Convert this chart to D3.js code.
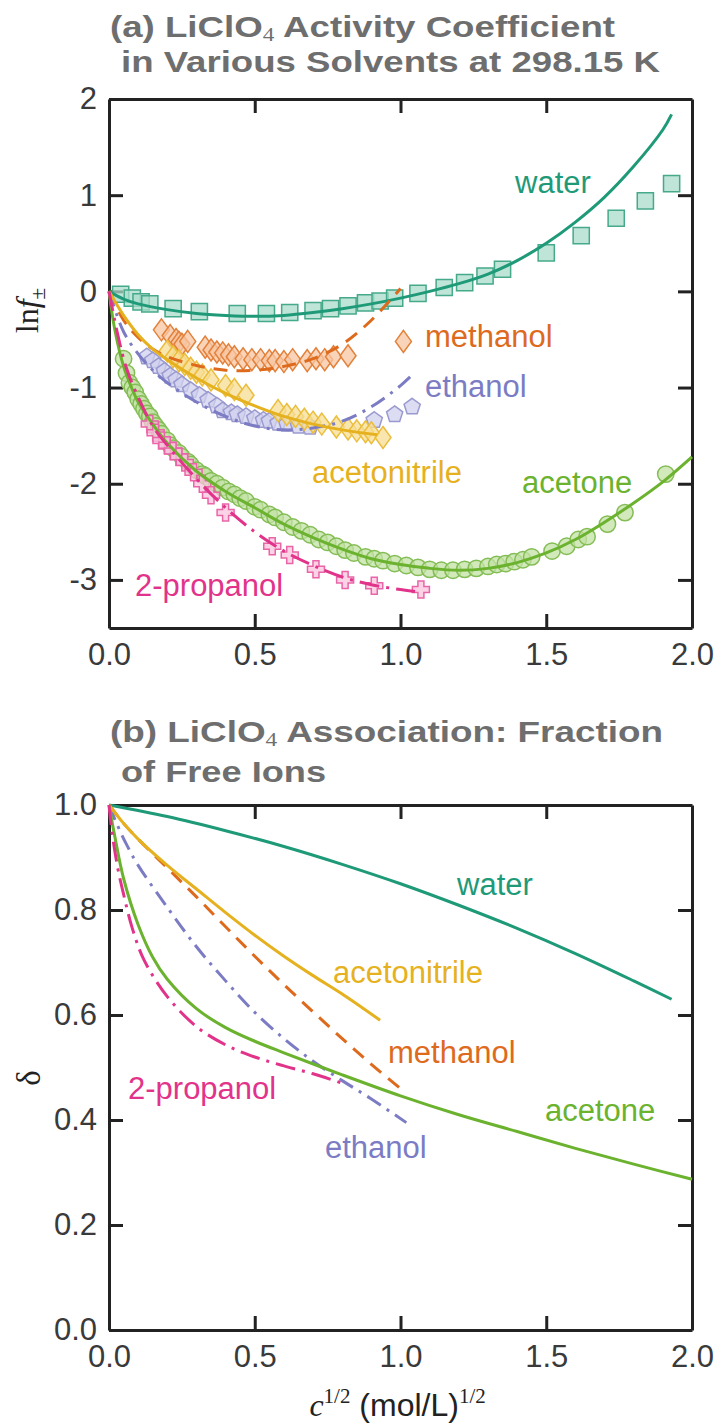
<!DOCTYPE html>
<html>
<head>
<meta charset="utf-8">
<script src="https://cdn.jsdelivr.net/npm/d3@7"></script>
<style>
  html, body { margin: 0; padding: 0; background: #fff; }
  svg { display: block; }
  .tick text { font-family: "Liberation Sans", Arial, sans-serif; font-size: 31px; fill: #3a3a3a; }
  .title { font-family: "Liberation Sans", Arial, sans-serif; font-weight: bold; font-size: 30px; fill: #6e6e6e; }
  .lbl { font-family: "Liberation Sans", Arial, sans-serif; font-size: 31px; }
</style>
</head>
<body>
<svg id="chart" width="719" height="1426"></svg>
<script>
// Series colours (line, marker stroke, marker fill)
const solvents = ['water', 'methanol', 'ethanol', 'acetonitrile', 'acetone', '2-propanol'];
const lineColor = { water: '#1f9a78', methanol: '#dd6a1d', ethanol: '#7c7cc4', acetonitrile: '#e6b11e', acetone: '#6bb22e', '2-propanol': '#e2338a' };
const markStroke = { water: '#45a98a', methanol: '#e3803a', ethanol: '#9a9ad0', acetonitrile: '#ebbd3c', acetone: '#84bd55', '2-propanol': '#e865a8' };
const markFill = { water: '#a9dccb', methanol: '#f7c6a2', ethanol: '#d0d0ee', acetonitrile: '#f7de94', acetone: '#c2e1a4', '2-propanol': '#f9c3dd' };
const dashes = { water: null, methanol: '14,9', ethanol: '16,7,3,7', acetonitrile: null, acetone: null, '2-propanol': '20,7,3,7' };

// Ticks
const xTicks = [0, 0.5, 1.0, 1.5, 2.0];
const yTicksA = [-3, -2, -1, 0, 1, 2];
const yTicksB = [0, 0.2, 0.4, 0.6, 0.8, 1.0];

// ---- Panel (a): measured points ----
const waterPtX = [0.04, 0.08, 0.11, 0.14, 0.22, 0.31, 0.44, 0.54, 0.62, 0.70, 0.76, 0.82, 0.88, 0.93, 0.98, 1.06, 1.15, 1.22, 1.29, 1.35, 1.50, 1.62, 1.74, 1.84, 1.93];
const waterPtY = [-0.03, -0.07, -0.11, -0.13, -0.18, -0.21, -0.23, -0.23, -0.22, -0.20, -0.18, -0.15, -0.12, -0.10, -0.07, -0.02, 0.04, 0.09, 0.16, 0.23, 0.40, 0.58, 0.76, 0.94, 1.12];

const methanolPtX = [0.18, 0.21, 0.23, 0.24, 0.25, 0.27, 0.33, 0.35, 0.37, 0.39, 0.41, 0.43, 0.46, 0.49, 0.52, 0.55, 0.57, 0.60, 0.63, 0.68, 0.71, 0.74, 0.77, 0.82, 1.01];
const methanolPtY = [-0.40, -0.46, -0.50, -0.53, -0.55, -0.52, -0.58, -0.61, -0.63, -0.64, -0.66, -0.68, -0.70, -0.71, -0.71, -0.72, -0.72, -0.73, -0.71, -0.72, -0.70, -0.71, -0.68, -0.67, -0.52];

const ethanolPtX = [0.13, 0.15, 0.17, 0.19, 0.21, 0.23, 0.25, 0.28, 0.31, 0.34, 0.37, 0.39, 0.42, 0.44, 0.47, 0.50, 0.53, 0.55, 0.58, 0.61, 0.65, 0.69, 0.91, 0.98, 1.04];
const ethanolPtY = [-0.68, -0.72, -0.78, -0.83, -0.88, -0.92, -0.97, -1.03, -1.08, -1.13, -1.19, -1.24, -1.26, -1.28, -1.30, -1.32, -1.34, -1.35, -1.37, -1.38, -1.40, -1.41, -1.34, -1.28, -1.20];

const acetonitrilePtX = [0.20, 0.22, 0.24, 0.26, 0.28, 0.30, 0.32, 0.35, 0.40, 0.43, 0.47, 0.58, 0.61, 0.64, 0.67, 0.70, 0.73, 0.78, 0.82, 0.85, 0.88, 0.90, 0.94];
const acetonitrilePtY = [-0.62, -0.68, -0.72, -0.76, -0.80, -0.84, -0.87, -0.92, -0.98, -1.02, -1.08, -1.24, -1.28, -1.30, -1.33, -1.36, -1.38, -1.41, -1.43, -1.45, -1.46, -1.47, -1.52];

const acetonePtX = [0.05, 0.06, 0.07, 0.08, 0.09, 0.10, 0.11, 0.12, 0.13, 0.14, 0.15, 0.16, 0.17, 0.18, 0.20, 0.21, 0.22, 0.24, 0.25, 0.27, 0.28, 0.30, 0.32, 0.33, 0.35, 0.37, 0.39, 0.41, 0.43, 0.45, 0.47, 0.50, 0.52, 0.55, 0.57, 0.60, 0.63, 0.66, 0.69, 0.72, 0.75, 0.78, 0.81, 0.84, 0.88, 0.91, 0.94, 0.98, 1.02, 1.06, 1.10, 1.14, 1.18, 1.22, 1.26, 1.30, 1.33, 1.36, 1.39, 1.42, 1.45, 1.52, 1.57, 1.61, 1.64, 1.71, 1.77, 1.91];
const acetonePtY = [-0.70, -0.85, -0.95, -1.00, -1.05, -1.12, -1.17, -1.22, -1.27, -1.30, -1.36, -1.40, -1.44, -1.48, -1.55, -1.60, -1.63, -1.68, -1.72, -1.77, -1.80, -1.86, -1.90, -1.92, -1.97, -2.00, -2.04, -2.08, -2.11, -2.15, -2.18, -2.24, -2.27, -2.32, -2.35, -2.40, -2.45, -2.49, -2.53, -2.58, -2.61, -2.65, -2.69, -2.72, -2.76, -2.78, -2.80, -2.83, -2.85, -2.87, -2.89, -2.90, -2.90, -2.89, -2.88, -2.86, -2.84, -2.83, -2.81, -2.79, -2.76, -2.70, -2.65, -2.58, -2.55, -2.42, -2.30, -1.90];

const propanolPtX = [0.14, 0.16, 0.18, 0.20, 0.22, 0.24, 0.26, 0.29, 0.32, 0.35, 0.40, 0.56, 0.62, 0.71, 0.81, 0.91, 1.07];
const propanolPtY = [-1.38, -1.47, -1.55, -1.60, -1.66, -1.72, -1.78, -1.88, -2.00, -2.12, -2.30, -2.65, -2.74, -2.89, -3.00, -3.06, -3.10];

// ---- Panel (a): model curves ----
const waterLnX = [0, 0.05, 0.1, 0.2, 0.3, 0.4, 0.5, 0.6, 0.7, 0.8, 0.9, 1.0, 1.1, 1.2, 1.3, 1.4, 1.5, 1.6, 1.7, 1.8, 1.9, 1.93];
const waterLnY = [0, -0.08, -0.13, -0.19, -0.23, -0.25, -0.26, -0.25, -0.22, -0.18, -0.13, -0.07, 0.0, 0.08, 0.18, 0.32, 0.50, 0.72, 0.98, 1.30, 1.68, 1.84];
const methanolLnX = [0, 0.05, 0.1, 0.15, 0.2, 0.3, 0.4, 0.5, 0.6, 0.7, 0.8, 0.9, 1.0];
const methanolLnY = [0, -0.30, -0.48, -0.60, -0.68, -0.77, -0.82, -0.82, -0.78, -0.70, -0.55, -0.30, 0.03];
const ethanolLnX = [0, 0.05, 0.1, 0.15, 0.2, 0.3, 0.4, 0.5, 0.6, 0.7, 0.8, 0.9, 1.0, 1.05];
const ethanolLnY = [0, -0.42, -0.65, -0.82, -0.95, -1.15, -1.30, -1.40, -1.44, -1.42, -1.35, -1.20, -0.98, -0.84];
const acetonitrileLnX = [0, 0.05, 0.1, 0.15, 0.2, 0.3, 0.4, 0.5, 0.6, 0.7, 0.8, 0.92];
const acetonitrileLnY = [0, -0.25, -0.45, -0.60, -0.71, -0.90, -1.06, -1.19, -1.30, -1.38, -1.44, -1.49];
const acetoneLnX = [0, 0.02, 0.05, 0.08, 0.1, 0.15, 0.2, 0.3, 0.4, 0.5, 0.6, 0.7, 0.8, 0.9, 1.0, 1.1, 1.2, 1.3, 1.4, 1.5, 1.6, 1.7, 1.8, 1.9, 2.0];
const acetoneLnY = [0, -0.40, -0.78, -1.02, -1.15, -1.38, -1.58, -1.87, -2.08, -2.25, -2.42, -2.56, -2.68, -2.78, -2.84, -2.88, -2.90, -2.88, -2.82, -2.72, -2.58, -2.40, -2.20, -1.98, -1.72];
const propanolLnX = [0, 0.03, 0.06, 0.1, 0.15, 0.2, 0.3, 0.4, 0.5, 0.6, 0.7, 0.8, 0.9, 1.0, 1.05];
const propanolLnY = [0, -0.45, -0.80, -1.10, -1.40, -1.60, -1.95, -2.25, -2.50, -2.70, -2.85, -2.97, -3.05, -3.10, -3.12];

// ---- Panel (b): fraction of free ions ----
const waterDX = [0, 0.2, 0.4, 0.6, 0.8, 1.0, 1.2, 1.4, 1.6, 1.8, 1.93];
const waterDY = [1.0, 0.978, 0.951, 0.921, 0.887, 0.85, 0.809, 0.765, 0.717, 0.665, 0.63];
const acetonitrileDX = [0, 0.05, 0.1, 0.2, 0.3, 0.4, 0.5, 0.6, 0.7, 0.8, 0.93];
const acetonitrileDY = [1.0, 0.965, 0.935, 0.885, 0.84, 0.795, 0.752, 0.712, 0.675, 0.64, 0.59];
const methanolDX = [0, 0.05, 0.1, 0.2, 0.3, 0.4, 0.5, 0.6, 0.7, 0.8, 0.9, 1.0];
const methanolDY = [1.0, 0.965, 0.935, 0.88, 0.825, 0.768, 0.712, 0.658, 0.606, 0.555, 0.506, 0.46];
const ethanolDX = [0, 0.03, 0.06, 0.1, 0.2, 0.3, 0.4, 0.5, 0.6, 0.7, 0.8, 0.9, 1.02];
const ethanolDY = [1.0, 0.96, 0.925, 0.885, 0.805, 0.73, 0.665, 0.605, 0.555, 0.512, 0.475, 0.44, 0.395];
const acetoneDX = [0, 0.02, 0.05, 0.1, 0.15, 0.2, 0.3, 0.4, 0.5, 0.6, 0.8, 1.0, 1.2, 1.4, 1.6, 1.8, 2.0];
const acetoneDY = [1.0, 0.94, 0.86, 0.772, 0.71, 0.668, 0.612, 0.576, 0.55, 0.528, 0.486, 0.446, 0.41, 0.378, 0.346, 0.316, 0.287];
const propanolDX = [0, 0.01, 0.03, 0.05, 0.08, 0.12, 0.2, 0.3, 0.4, 0.5, 0.6, 0.7, 0.8];
const propanolDY = [1.0, 0.95, 0.88, 0.83, 0.765, 0.705, 0.635, 0.578, 0.543, 0.52, 0.503, 0.488, 0.47];

const zip = (xs, ys) => xs.map((x, i) => [x, ys[i]]);

const pointsA = {
  water: zip(waterPtX, waterPtY), methanol: zip(methanolPtX, methanolPtY), ethanol: zip(ethanolPtX, ethanolPtY),
  acetonitrile: zip(acetonitrilePtX, acetonitrilePtY), acetone: zip(acetonePtX, acetonePtY), '2-propanol': zip(propanolPtX, propanolPtY)
};
const curvesA = {
  water: zip(waterLnX, waterLnY), methanol: zip(methanolLnX, methanolLnY), ethanol: zip(ethanolLnX, ethanolLnY),
  acetonitrile: zip(acetonitrileLnX, acetonitrileLnY), acetone: zip(acetoneLnX, acetoneLnY), '2-propanol': zip(propanolLnX, propanolLnY)
};
const curvesB = {
  water: zip(waterDX, waterDY), methanol: zip(methanolDX, methanolDY), ethanol: zip(ethanolDX, ethanolDY),
  acetonitrile: zip(acetonitrileDX, acetonitrileDY), acetone: zip(acetoneDX, acetoneDY), '2-propanol': zip(propanolDX, propanolDY)
};

// label placements [x, baseline y] in pixels
const labelsA = { water: [515, 193], methanol: [425, 347], ethanol: [425, 397], acetonitrile: [312, 483], acetone: [522, 493], '2-propanol': [135, 596] };
const labelsB = { water: [457, 895], acetonitrile: [333, 983], methanol: [388, 1063], '2-propanol': [128, 1099], ethanol: [325, 1158], acetone: [545, 1121] };

const svg = d3.select('#chart');
const left = 109, right = 692;

const x = d3.scaleLinear().domain([0, 2]).range([left, right]);
const yA = d3.scaleLinear().domain([-3.5, 2]).range([628, 99]);
const yB = d3.scaleLinear().domain([0, 1]).range([1330, 805]);

// marker shapes
function marker(sel, name) {
  const s = sel.attr('fill', markFill[name]).attr('fill-opacity', 0.75)
    .attr('stroke', markStroke[name]).attr('stroke-width', 1.5);
  if (name === 'water') s.attr('d', d3.symbol(d3.symbolSquare, 262)());
  else if (name === 'acetone') s.attr('d', d3.symbol(d3.symbolCircle, 210)());
  else if (name === 'ethanol') s.attr('d', 'M0,-8.5L8.1,-2.6L5,6.9L-5,6.9L-8.1,-2.6Z');
  else if (name === 'methanol' || name === 'acetonitrile') s.attr('d', 'M0,-11L8,0L0,11L-8,0Z');
  else s.attr('d', 'M-3,-8.5H3V-3H8.5V3H3V8.5H-3V3H-8.5V-3H-3Z');
}

function drawFrame(y, yTicks, yFmt) {
  const g = svg.append('g');
  const top = y.range()[1], bottom = y.range()[0];
  g.append('g').attr('class', 'xb').attr('transform', `translate(0,${bottom})`)
    .call(d3.axisBottom(x).tickValues(xTicks).tickSize(-14).tickSizeOuter(0).tickPadding(15).tickFormat(d3.format('.1f')));
  g.append('g').attr('class', 'xt').attr('transform', `translate(0,${top})`)
    .call(d3.axisTop(x).tickValues(xTicks).tickSize(-14).tickSizeOuter(0).tickFormat(''));
  g.append('g').attr('transform', `translate(${left},0)`)
    .call(d3.axisLeft(y).tickValues(yTicks).tickSize(-14).tickSizeOuter(0).tickPadding(12).tickFormat(yFmt));
  g.append('g').attr('transform', `translate(${right},0)`)
    .call(d3.axisRight(y).tickValues(yTicks).tickSize(-14).tickSizeOuter(0).tickFormat(''));
  g.selectAll('.domain').attr('stroke', '#222').attr('stroke-width', 3);
  g.selectAll('.tick line').attr('stroke', '#222').attr('stroke-width', 3);
  g.selectAll('.tick text').attr('fill', '#3a3a3a');
  // corner ticks sit on the frame, hide them
  g.selectAll('.xb .tick, .xt .tick').filter(d => d === 0 || d === 2).select('line').attr('stroke-opacity', 0);
  return g;
}

function drawLines(curves, y) {
  const line = d3.line().x(d => x(d[0])).y(d => y(d[1])).curve(d3.curveCatmullRom.alpha(0.5));
  solvents.forEach(name => {
    svg.append('path').datum(curves[name])
      .attr('d', line).attr('fill', 'none')
      .attr('stroke', lineColor[name]).attr('stroke-width', 3)
      .attr('stroke-dasharray', dashes[name]);
  });
}

function drawLabels(labels) {
  solvents.forEach(name => {
    svg.append('text').attr('class', 'lbl').attr('x', labels[name][0]).attr('y', labels[name][1])
      .attr('fill', lineColor[name]).text(name);
  });
}

function title(lines) {
  lines.forEach(l => {
    const t = svg.append('text').attr('class', 'title').attr('x', l.x).attr('y', l.y)
      .attr('textLength', l.w).attr('lengthAdjust', 'spacingAndGlyphs');
    l.parts.forEach(p => {
      const ts = t.append('tspan').text(p.t);
      if (p.sub) ts.attr('font-size', 19).attr('font-weight', 'normal').attr('font-family', 'Liberation Serif').attr('dy', 4);
      if (p.up) ts.attr('dy', -4);
    });
  });
}

// ---------- Panel (a) ----------
title([
  { x: 110, y: 37, w: 505, parts: [{ t: '(a) LiClO' }, { t: '4', sub: true }, { t: ' Activity Coefficient', up: true }] },
  { x: 121, y: 72, w: 539, parts: [{ t: 'in Various Solvents at 298.15 K' }] }
]);
drawFrame(yA, yTicksA, d => String(d));
solvents.forEach(name => {
  svg.append('g').selectAll('path').data(pointsA[name]).join('path')
    .attr('transform', d => `translate(${x(d[0])},${yA(d[1])})`)
    .call(marker, name);
});
drawLines(curvesA, yA);
drawLabels(labelsA);

const ylA = svg.append('text').attr('transform', `translate(38,${yA(-0.2)}) rotate(-90)`)
  .attr('text-anchor', 'middle').attr('font-size', 32).attr('fill', '#222').attr('font-family', 'Liberation Serif');
ylA.append('tspan').text('ln');
ylA.append('tspan').attr('font-style', 'italic').text('f');
ylA.append('tspan').attr('font-size', 21).attr('dy', 7).text('±');

// ---------- Panel (b) ----------
title([
  { x: 110, y: 742, w: 553, parts: [{ t: '(b) LiClO' }, { t: '4', sub: true }, { t: ' Association: Fraction', up: true }] },
  { x: 121, y: 782, w: 205, parts: [{ t: 'of Free Ions' }] }
]);
drawFrame(yB, yTicksB, d3.format('.1f'));
drawLines(curvesB, yB);
drawLabels(labelsB);

svg.append('text').attr('transform', `translate(40,${yB(0.48)}) rotate(-90)`)
  .attr('text-anchor', 'middle').attr('font-size', 33).attr('fill', '#222')
  .attr('font-family', 'Liberation Serif').text('δ');

const xl = svg.append('text').attr('x', x(0.99)).attr('y', 1416).attr('text-anchor', 'middle')
  .attr('font-size', 32).attr('fill', '#222').attr('font-family', 'Liberation Sans');
xl.append('tspan').attr('font-family', 'Liberation Serif').attr('font-style', 'italic').text('c');
xl.append('tspan').attr('font-family', 'Liberation Serif').attr('font-size', 21).attr('dy', -13).text('1/2');
xl.append('tspan').attr('dy', 13).text(' (mol/L)');
xl.append('tspan').attr('font-family', 'Liberation Serif').attr('font-size', 21).attr('dy', -13).text('1/2');
</script>
</body>
</html>
